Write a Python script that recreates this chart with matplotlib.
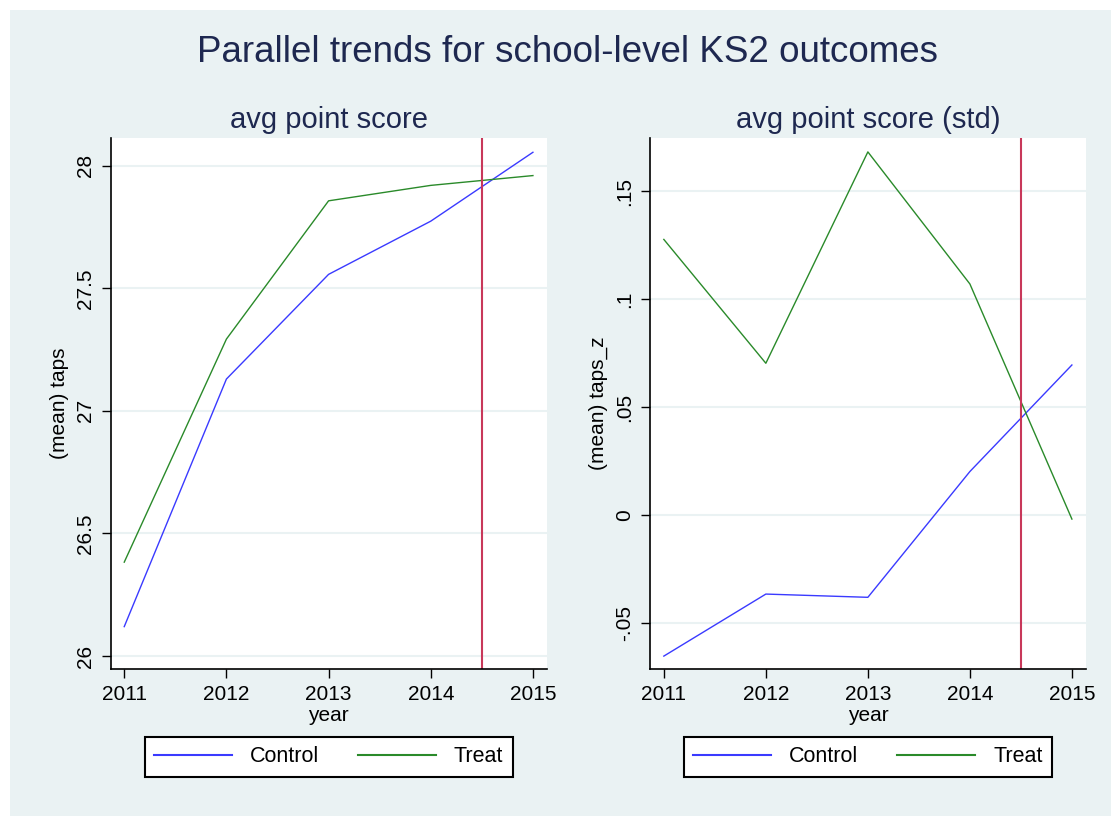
import matplotlib
matplotlib.use("Agg")
import matplotlib.pyplot as plt
from matplotlib.patches import Rectangle

# Dane
years = [2011, 2012, 2013, 2014, 2015]
taps_control = [26.12, 27.13, 27.557, 27.774, 28.055]
taps_treat = [26.383, 27.293, 27.857, 27.92, 27.96]
tapsz_control = [-0.0651, -0.0364, -0.0379, 0.0203, 0.0696]
tapsz_treat = [0.1277, 0.0704, 0.1682, 0.1071, -0.0017]
policy_year = 2014.5

left_ticks = [26, 26.5, 27, 27.5, 28]
left_labels = ["26", "26.5", "27", "27.5", "28"]
right_ticks = [-0.05, 0, 0.05, 0.1, 0.15]
right_labels = ["-.05", "0", ".05", ".1", ".15"]

series_names = ["Control", "Treat"]

# Kolory
bg = "#eaf2f3"
blue = "#3a3aff"
green = "#2a8a2a"
red = "#c8385a"
navy = "#1e2850"

plt.rcParams["font.family"] = ["Liberation Sans", "DejaVu Sans"]

fig = plt.figure(figsize=(11.11, 8.16), dpi=100, facecolor="white")
fig.patches.append(Rectangle((10 / 1111, 0), 1 - 10 / 1111, 1 - 10 / 816,
                             transform=fig.transFigure, facecolor=bg,
                             edgecolor="none", zorder=-10))

fig.text(0.511, 0.936, "Parallel trends for school-level KS2 outcomes",
         ha="center", va="center", fontsize=26.5, color=navy)

ax1 = fig.add_axes([0.0996, 0.1798, 0.3925, 0.651])
ax2 = fig.add_axes([0.5853, 0.1798, 0.3919, 0.651])

panels = [
    (ax1, taps_control, taps_treat, "avg point score", "(mean) taps",
     left_ticks, left_labels, (25.946, 28.113)),
    (ax2, tapsz_control, tapsz_treat, "avg point score (std)", "(mean) taps_z",
     right_ticks, right_labels, (-0.0712, 0.1746)),
]

for ax, ctrl, treat, title, ylab, yt, ytl, ylim in panels:
    ax.set_facecolor("white")
    l1, = ax.plot(years, ctrl, color=blue, lw=1.0)
    l2, = ax.plot(years, treat, color=green, lw=1.0)
    ax.axvline(policy_year, color=red, lw=1.5)
    ax.set_xlim(2010.867, 2015.135)
    ax.set_ylim(*ylim)
    ax.set_xticks(years)
    ax.set_xticklabels([str(y) for y in years])
    ax.set_yticks(yt)
    ax.set_yticklabels(ytl, rotation=90, va="center")
    ax.grid(axis="y", color=bg, lw=1.5)
    ax.set_axisbelow(True)
    for s in ["top", "right"]:
        ax.spines[s].set_visible(False)
    for s in ["left", "bottom"]:
        ax.spines[s].set_color("black")
        ax.spines[s].set_linewidth(1.2)
    ax.tick_params(direction="out", length=6.5, width=1.0, labelsize=15,
                   pad=5, colors="black")
    ax.set_title(title, fontsize=21, pad=7, color=navy)
    ax.set_xlabel("year", fontsize=15, labelpad=1)
    ax.set_ylabel(ylab, fontsize=15, labelpad=5)

    cx = (ax.get_position().x0 + ax.get_position().x1) / 2
    leg = fig.legend([l1, l2], series_names, loc="center",
                     bbox_to_anchor=(cx, 1 - 757 / 816), ncol=2,
                     fontsize=15.5, frameon=True, fancybox=False,
                     framealpha=1, facecolor="white",
                     edgecolor="black", handlelength=3.6, handletextpad=0.85,
                     columnspacing=1.8, borderpad=0.45)
    leg.get_frame().set_linewidth(1.5)
    for h in leg.legend_handles:
        h.set_linewidth(1.5)

fig.savefig("out.png", dpi=100, facecolor=fig.get_facecolor())
